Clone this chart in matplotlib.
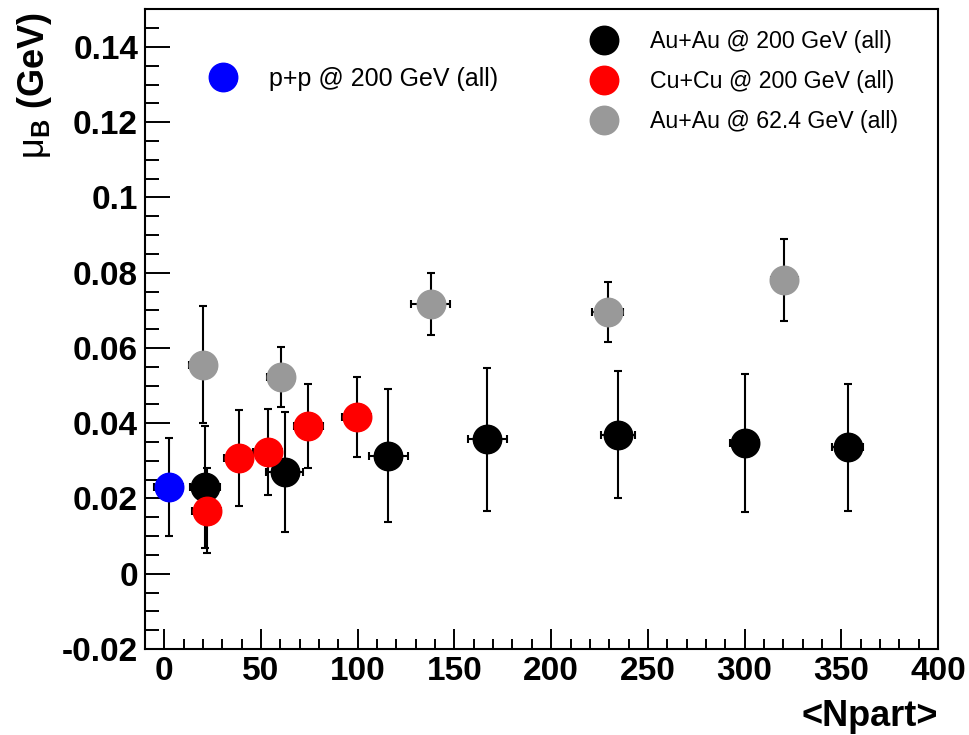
import matplotlib
matplotlib.use("Agg")
import matplotlib.pyplot as plt
from matplotlib.ticker import MultipleLocator, FuncFormatter
from matplotlib.lines import Line2D

plt.rcParams['font.family'] = ['Liberation Sans', 'DejaVu Sans']
plt.rcParams['mathtext.fontset'] = 'custom'
plt.rcParams['mathtext.rm'] = 'Liberation Sans'
plt.rcParams['mathtext.bf'] = 'Liberation Sans:bold'
plt.rcParams['mathtext.it'] = 'Liberation Sans:italic'

# p+p @ 200 GeV
pp_npart = [2.4]
pp_mub = [0.0231]
pp_err = [0.0130]
pp_xerr = [7.5]

# Au+Au @ 200 GeV
auau200_npart = [21.0, 62.3, 115.8, 167.0, 234.6, 300.0, 353.3]
auau200_mub = [0.0231, 0.0270, 0.0314, 0.0358, 0.0370, 0.0347, 0.0336]
auau200_err = [0.0162, 0.0160, 0.0177, 0.0190, 0.0168, 0.0184, 0.0168]
auau200_xerr = [7.7, 9.5, 10.0, 10.0, 9.0, 7.7, 8.0]

# Cu+Cu @ 200 GeV
cucu200_npart = [22.0, 38.4, 53.4, 74.3, 99.5]
cucu200_mub = [0.0168, 0.0308, 0.0323, 0.0392, 0.0416]
cucu200_err = [0.0112, 0.0127, 0.0114, 0.0111, 0.0106]
cucu200_xerr = [7.5, 7.5, 7.5, 7.5, 7.5]

# Au+Au @ 62.4 GeV
auau62_npart = [19.8, 60.2, 137.7, 229.2, 320.6]
auau62_mub = [0.0556, 0.0522, 0.0716, 0.0696, 0.0780]
auau62_err = [0.0156, 0.0080, 0.0082, 0.0080, 0.0109]
auau62_xerr = [7.0, 7.0, 10.0, 8.0, 7.0]

labels = {
    'pp': 'p+p @ 200 GeV (all)',
    'auau200': 'Au+Au @ 200 GeV (all)',
    'cucu200': 'Cu+Cu @ 200 GeV (all)',
    'auau62': 'Au+Au @ 62.4 GeV (all)',
}
colors = {'pp': '#0000ff', 'auau200': '#000000', 'cucu200': '#ff0000', 'auau62': '#999999'}

W, H = 969, 735
fig = plt.figure(figsize=(W / 100, H / 100), dpi=100)
ax = fig.add_axes([145 / W, 1 - 649 / H, 793 / W, 639.7 / H])

ms = 20.5
err_kw = dict(fmt='o', ms=ms, ecolor='black', elinewidth=1.5, capsize=3.0, capthick=1.5)

series = [
    ('auau62', auau62_npart, auau62_mub, auau62_err, auau62_xerr, 2),
    ('auau200', auau200_npart, auau200_mub, auau200_err, auau200_xerr, 3),
    ('cucu200', cucu200_npart, cucu200_mub, cucu200_err, cucu200_xerr, 4),
    ('pp', pp_npart, pp_mub, pp_err, pp_xerr, 5),
]
for key, x, y, ye, xe, z in series:
    ax.errorbar(x, y, yerr=ye, xerr=xe, color=colors[key], mec=colors[key],
                zorder=z, **err_kw)

ax.set_xlim(-10, 400)
ax.set_ylim(-0.02, 0.15)

ax.xaxis.set_major_locator(MultipleLocator(50))
ax.xaxis.set_minor_locator(MultipleLocator(10))
ax.yaxis.set_major_locator(MultipleLocator(0.02))
ax.yaxis.set_minor_locator(MultipleLocator(0.005))
ax.yaxis.set_major_formatter(FuncFormatter(lambda v, p: f"{round(v, 4):g}"))

ax.tick_params(which='both', direction='in', top=False, right=False, width=1.4)
ax.tick_params(axis='x', which='major', length=14.4, pad=5, labelsize=24)
ax.tick_params(axis='x', which='minor', length=7.2)
ax.tick_params(axis='y', which='major', length=18, pad=5, labelsize=24)
ax.tick_params(axis='y', which='minor', length=10)
for lab in ax.get_xticklabels() + ax.get_yticklabels():
    lab.set_fontweight('bold')
for s in ax.spines.values():
    s.set_linewidth(1.5)

ax.set_xlabel('<Npart>', loc='right', fontsize=26, fontweight='bold')
ax.xaxis.set_label_coords(1.0, -(699 - 649) / 639.7)
ax.set_ylabel(r'$\mathrm{\mu}_{\mathbf{B}}$ (GeV)', loc='top', fontsize=26, fontweight='bold')
ax.yaxis.set_label_coords((54 - 145) / 793, 1.0 - 3 / 639.7)

def handle(key):
    return Line2D([], [], marker='o', ls='none', ms=ms, color=colors[key], mec=colors[key])

leg1 = ax.legend(handles=[handle('pp')], labels=[labels['pp']], loc='center left',
                 bbox_to_anchor=(210.5 / W, 1 - 79 / H), bbox_transform=fig.transFigure,
                 frameon=False, borderpad=0, borderaxespad=0, handlelength=1.0,
                 handletextpad=1.35, fontsize=18)
ax.add_artist(leg1)
keys = ['auau200', 'cucu200', 'auau62']
ax.legend(handles=[handle(k) for k in keys], labels=[labels[k] for k in keys],
          loc='center left', bbox_to_anchor=(592.5 / W, 1 - 81.5 / H),
          bbox_transform=fig.transFigure, frameon=False, borderpad=0, borderaxespad=0,
          handlelength=1.0, handletextpad=1.5, fontsize=16.7, labelspacing=0.72)

fig.savefig('out.png', dpi=100)
